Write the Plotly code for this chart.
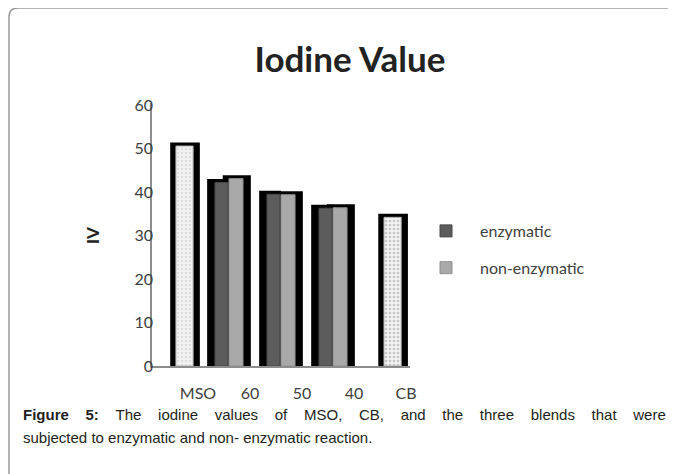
import plotly.graph_objects as go

# a pagina tem margem de 8px no body; a figura ocupa o resto da janela
OFF = 8
W, H = 676 - OFF, 474 - OFF
ML, MR, MT, MB = 152 - OFF, 266, 103 - OFF, 108
PW, PH = W - ML - MR, H - MT - MB


def px(x):
    # posicao horizontal na janela -> fracao "paper"
    return (x - OFF - ML) / PW


def py(y):
    return (H - MB - (y - OFF)) / PH


categorias = ["MSO", "60", "50", "40", "CB"]
enzimatico = [None, 42.2, 39.5, 36.3, None]
nao_enzimatico = [None, 43.1, 39.4, 36.4, None]
puros = [50.6, None, None, None, 34.2]

SOMBRA = 0.8
PRETO = "#000000"
ENZ = "#5c5c5c"
NENZ = "#a9a9a9"
TEXTO = "#404040"
FONTE = "Lato"


def sombra(vals):
    return [v + SOMBRA if v is not None else None for v in vals]


fig = go.Figure()

# sombras pretas atras das barras
fig.add_trace(go.Bar(x=categorias, y=sombra(enzimatico), offset=-0.42, width=0.42,
                     marker=dict(color=PRETO, line=dict(width=0)), showlegend=False,
                     hoverinfo="skip"))
fig.add_trace(go.Bar(x=categorias, y=sombra(nao_enzimatico), offset=-0.12, width=0.54,
                     marker=dict(color=PRETO, line=dict(width=0)), showlegend=False,
                     hoverinfo="skip"))
fig.add_trace(go.Bar(x=categorias, y=sombra(puros), offset=-0.13, width=0.57,
                     marker=dict(color=PRETO, line=dict(width=0)), showlegend=False,
                     hoverinfo="skip"))

fig.add_trace(go.Bar(
    x=categorias, y=enzimatico, name="enzymatic",
    offset=-0.27, width=0.25, legendgroup="a",
    marker=dict(color=ENZ, line=dict(color="#474747", width=1)),
))
fig.add_trace(go.Bar(
    x=categorias, y=nao_enzimatico, name="non-enzymatic",
    offset=0.0, width=0.27, legendgroup="b",
    marker=dict(color=NENZ, line=dict(color="#8f8f8f", width=1)),
))
fig.add_trace(go.Bar(
    x=categorias, y=puros, name="pure",
    offset=-0.02, width=0.33, showlegend=False,
    marker=dict(
        color="#f2f2f2",
        line=dict(color="#b5b5b5", width=1),
        pattern=dict(shape=".", bgcolor="#f2f2f2",
                     fgcolor=["#c8c8c8", "#c8c8c8", "#c8c8c8", "#c8c8c8", "#9a9a9a"],
                     size=4, solidity=0.35),
    ),
))

fig.add_annotation(text="<b>IV</b>", textangle=-90, xref="paper", yref="paper",
                   x=px(92), y=py(236), xanchor="center", yanchor="middle",
                   showarrow=False,
                   font=dict(family=FONTE, size=17, color="#222222"))

gap = "\u00a0" * 4
linha1 = gap.join(["<b>Figure</b>", "<b>5:</b>", "The", "iodine", "values", "of", "MSO,",
                   "CB,", "and", "the", "three", "blends", "that", "were"])
linha2 = "subjected to enzymatic and non- enzymatic reaction."
for txt, y in [(linha1, 414), (linha2, 437)]:
    fig.add_annotation(text=txt, xref="paper", yref="paper", x=px(21), y=py(y),
                       xanchor="left", yanchor="middle", showarrow=False,
                       font=dict(family="Liberation Sans", size=15, color="#231f20"))

# moldura arredondada (so lados esquerdo e superior visiveis)
fig.add_shape(type="path", xref="paper", yref="paper",
              path=(f"M {px(9)},{py(490)} L {px(9)},{py(17)} "
                    f"Q {px(9)},{py(8)} {px(18)},{py(8)} L {px(700)},{py(8)}"),
              line=dict(color="#9a9a9a", width=1.5))

fig.update_layout(
    width=W, height=H,
    barmode="overlay",
    paper_bgcolor="white", plot_bgcolor="white",
    margin=dict(l=ML, r=MR, t=MT, b=MB),
    title=dict(text="<b>Iodine Value</b>", x=(350 - OFF) / W, y=1 - (60 - OFF) / H,
               xanchor="center", yanchor="middle",
               font=dict(family=FONTE, size=35, color="#222222")),
    xaxis=dict(type="category", range=[-0.48, 4.48], showline=True,
               linecolor="#8c8c8c", linewidth=1.5, ticks="", showgrid=False,
               tickfont=dict(family=FONTE, size=16, color=TEXTO),
               ticklabelshift=21, ticklabelstandoff=12),
    yaxis=dict(range=[0, 60.5], dtick=10, showline=True, linecolor="#8c8c8c",
               linewidth=1.5, ticks="", showgrid=False, zeroline=False,
               tickfont=dict(family=FONTE, size=16, color=TEXTO),
               ticklabelstandoff=-6),
    legend=dict(x=px(412), y=py(214), xanchor="left", yanchor="top",
                font=dict(family=FONTE, size=16, color=TEXTO),
                itemwidth=58, tracegroupgap=13, bgcolor="rgba(0,0,0,0)"),
    showlegend=True,
)

fig.write_html("out.html")
